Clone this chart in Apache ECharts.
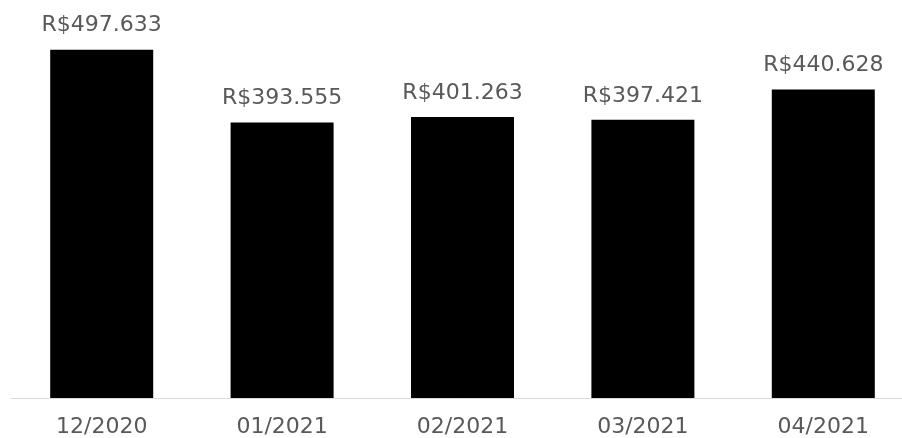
<!DOCTYPE html>
<html>
<head>
<meta charset="utf-8">
<script src="https://cdn.jsdelivr.net/npm/echarts@6/dist/echarts.min.js"></script>
<style>
  html, body { margin: 0; padding: 0; background: #fff; overflow: hidden; }
  #chart { width: 914px; height: 438px; }
</style>
</head>
<body>
<div id="chart"></div>
<script>
var meses = ["12/2020", "01/2021", "02/2021", "03/2021", "04/2021"];
var valores = [497633, 393555, 401263, 397421, 440628];

// formato brasileiro: R$497.633
function reais(v) {
  return "R$" + String(v).replace(/\B(?=(\d{3})+(?!\d))/g, ".");
}

// a área do gráfico passa um pouco da borda direita, como no original
var myChart = echarts.init(document.getElementById("chart"));
myChart.setOption({
  animation: false,
  grid: {
    left: 11.5,
    right: 0.5,
    top: 20,
    bottom: 39
  },
  xAxis: {
    type: "category",
    data: meses,
    axisLine: { lineStyle: { color: "#d9d9d9", width: 1 } },
    axisTick: { show: false },
    axisLabel: {
      color: "#595959",
      fontFamily: "DejaVu Sans",
      fontSize: 22,
      margin: 18
    }
  },
  yAxis: {
    type: "value",
    min: 0,
    max: 540000,
    show: false,
    splitLine: { show: false }
  },
  series: [{
    type: "bar",
    data: valores,
    barWidth: 103,
    itemStyle: { color: "#000000" },
    label: {
      show: true,
      position: "top",
      distance: 13,
      color: "#595959",
      fontFamily: "DejaVu Sans",
      fontSize: 22,
      formatter: function (p) { return reais(p.value); }
    }
  }]
});
</script>
</body>
</html>
